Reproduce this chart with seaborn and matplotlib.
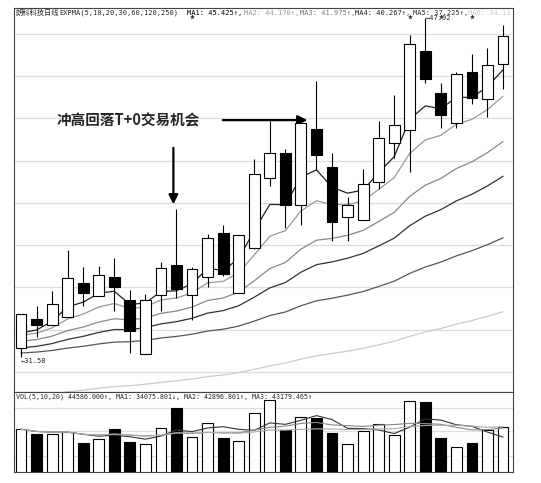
import matplotlib.pyplot as plt
import seaborn as sns
import numpy as np
import pandas as pd

opens = [32.02, 33.42, 33.13, 33.52, 35.12, 34.49, 35.41, 34.34, 31.73, 34.54, 35.99, 34.54, 35.41, 37.55, 34.68, 36.82,
         40.21, 41.43, 38.90, 42.59, 40.75, 38.32, 38.18, 40.02, 41.91, 42.54, 46.32, 44.29, 42.88, 45.31, 44.00, 45.69]
closes = [33.62, 33.13, 34.15, 35.36, 34.68, 35.51, 34.93, 32.84, 34.30, 35.85, 34.83, 35.80, 37.30, 35.56, 37.45, 40.41,
          41.43, 38.90, 42.88, 41.33, 38.08, 38.90, 39.92, 42.15, 42.78, 46.66, 44.97, 43.27, 45.21, 44.09, 45.65, 47.05]
highs = [33.62, 34.01, 34.73, 36.72, 35.90, 35.95, 36.33, 34.78, 34.59, 36.14, 38.71, 35.90, 37.50, 37.93, 37.45, 41.13,
         42.98, 41.62, 42.88, 44.87, 41.43, 39.29, 40.65, 42.98, 44.19, 47.10, 47.92, 44.77, 45.31, 46.18, 46.47, 47.60]
lows = [31.58, 32.55, 33.13, 33.52, 34.01, 34.49, 33.81, 31.77, 31.73, 33.81, 34.44, 33.37, 34.93, 35.46, 34.68, 36.77,
        39.83, 37.79, 37.93, 40.60, 37.16, 37.16, 38.18, 39.68, 41.18, 40.50, 44.77, 42.64, 42.64, 43.80, 43.17, 44.50]
volumes = [42250, 37860, 37860, 39550, 28730, 32790, 42930, 30080, 27720, 43600, 63210, 34480, 48670, 33800, 30760, 58140,
           70980, 41570, 54080, 53740, 38530, 27720, 40220, 47320, 36170, 69970, 69290, 33460, 24340, 28730, 41240, 44586]
star_bars = [11, 25, 27, 29]

# EXPMA periods and the line level just before the first bar
ema_spans = [5, 10, 20, 30, 60, 120]
ema_seeds = [32.3, 32.4, 32.2, 31.9, 31.7, 29.6]
ema_colors = ['#222222', '#999999', '#888888', '#333333', '#555555', '#cccccc']

df = pd.DataFrame({'x': np.arange(len(closes)), 'open': opens, 'close': closes,
                   'high': highs, 'low': lows, 'vol': volumes})
df['up'] = df['close'] >= df['open']

sns.set_style('white')
plt.rcParams['font.family'] = ['Noto Sans CJK SC', 'DejaVu Sans']

fig = plt.figure(figsize=(5.41, 4.83), dpi=100)
ax = fig.add_axes([14/541, 1-392/483, 499/541, 384/483])
axv = fig.add_axes([14/541, 1-472/483, 499/541, 80/483])

for a in (ax, axv):
    for s in a.spines.values():
        s.set_color('#444444')
        s.set_linewidth(0.8)
    a.set_xlim(-0.45, 31.64)
    a.set_xticks([])

# price panel
ax.set_ylim(29.88, 48.41)
ax.set_yticks(np.arange(30.85, 48, 2.04))
ax.set_yticklabels([])
ax.tick_params(axis='y', length=3, direction='in', color='#888888')
ax.grid(axis='y', color='#dddddd', linewidth=0.9)

w = 0.7
for _, r in df.iterrows():
    ax.vlines(r.x, r.low, r.high, color='black', linewidth=0.8, zorder=3)
    lo, hi = sorted([r.open, r.close])
    ax.bar(r.x, hi - lo, bottom=lo, width=w, color='white' if r.up else 'black',
           edgecolor='black', linewidth=0.8, zorder=4)

for span, seed, col in zip(ema_spans, ema_seeds, ema_colors):
    alpha = 2 / (span + 1)
    vals, prev = [], seed
    for c in closes:
        prev = prev + alpha * (c - prev)
        vals.append(prev)
    sns.lineplot(x=df['x'], y=vals, ax=ax, color=col, linewidth=0.9, zorder=2)
ax.set_xlabel('')
ax.set_ylabel('')

mono = dict(fontsize=5, va='top', family='DejaVu Sans Mono', transform=ax.transAxes, clip_on=True)
ax.text(0.003, 0.997, '朗科科技日线', transform=ax.transAxes, fontsize=5.2, va='top')
ax.text(0.09, 0.995, 'EXPMA(5,10,20,30,60,120,250)', **mono)
hdr = [('MA1: 45.425↑,', 0.347, '#000000'), ('MA2: 44.170↑,', 0.461, '#999999'),
       ('MA3: 41.975↑,', 0.573, '#777777'), ('MA4: 40.267↑,', 0.683, '#222222'),
       ('MA5: 37.225↑,', 0.80, '#333333'), ('MA6: 34.13', 0.91, '#cccccc')]
for t, xx, c in hdr:
    ax.text(xx, 0.995, t, color=c, **mono)
for xs in star_bars:
    ax.text(xs, 47.85, '*', fontsize=7, ha='center', va='center', fontweight='bold')
ax.annotate('←47.92', (26.0, 47.92), fontsize=5, va='center', family='DejaVu Sans Mono')
ax.annotate('←31.58', (0.0, 31.4), fontsize=5, va='center', family='DejaVu Sans Mono')

ax.text(2.3, 43.0, '冲高回落T+0交易机会', fontsize=10.5, fontweight='bold', va='center')
ax.annotate('', xy=(18.6, 43.0), xytext=(12.8, 43.0),
            arrowprops=dict(arrowstyle='-|>', color='black', lw=1.6, mutation_scale=14))
ax.annotate('', xy=(9.8, 38.8), xytext=(9.8, 41.8),
            arrowprops=dict(arrowstyle='-|>', color='black', lw=1.6, mutation_scale=14))

# volume panel
axv.set_ylim(0, 79000)
axv.set_yticks([16000, 40000, 63000])
axv.set_yticklabels([])
axv.grid(axis='y', color='#dddddd', linewidth=0.9)
axv.bar(df['x'], df['vol'], width=w, color=['white' if u else 'black' for u in df['up']],
        edgecolor='black', linewidth=0.8, zorder=3)
for win, col in zip([5, 10, 20], ['#333333', '#888888', '#aaaaaa']):
    ma = df['vol'].rolling(win, min_periods=1).mean()
    sns.lineplot(x=df['x'], y=ma, ax=axv, color=col, linewidth=0.8, zorder=4)
axv.set_xlabel('')
axv.set_ylabel('')
axv.text(0.005, 0.98, 'VOL(5,10,20) 44586.000↑, MA1: 34075.801↓, MA2: 42896.801↑, MA3: 43179.465↑',
         transform=axv.transAxes, fontsize=4.8, va='top', family='DejaVu Sans Mono')

fig.savefig('out.png', dpi=100)
